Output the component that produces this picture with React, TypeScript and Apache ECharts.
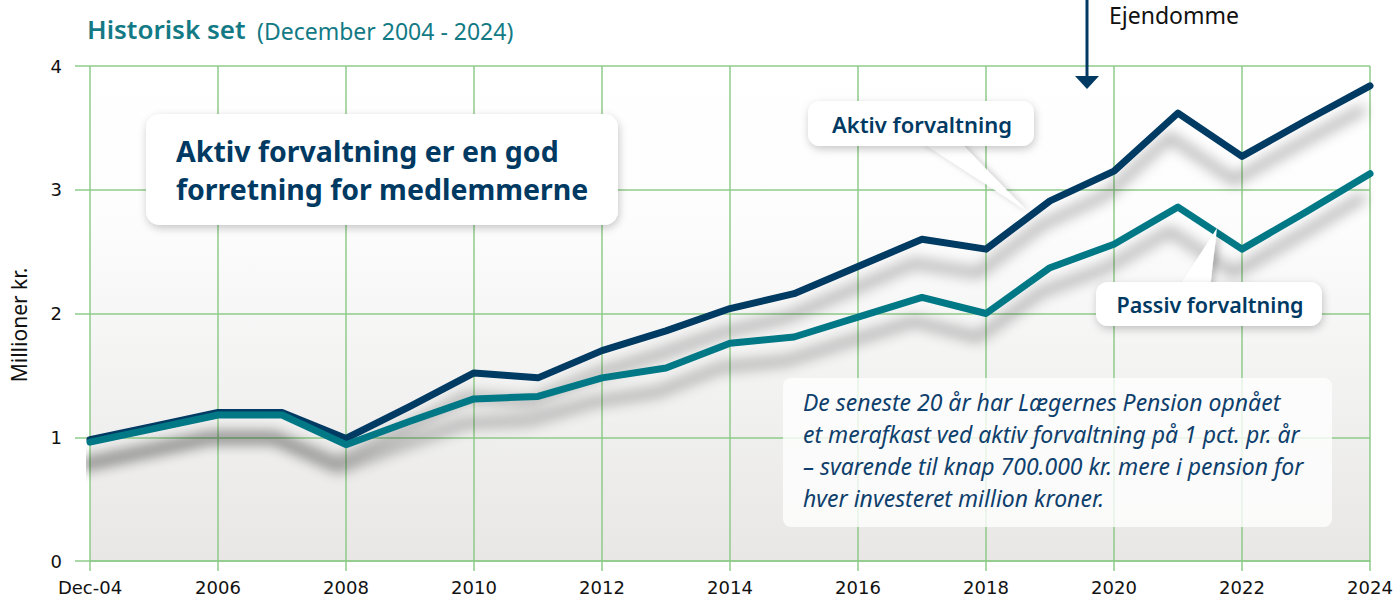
import React, { useEffect, useRef } from "react";
import * as echarts from "echarts";

const categories = [
  "Dec-04", "2005", "2006", "2007", "2008", "2009", "2010", "2011", "2012", "2013",
  "2014", "2015", "2016", "2017", "2018", "2019", "2020", "2021", "2022", "2023", "2024",
];
const aktivValues = [
  0.98, 1.09, 1.2, 1.2, 0.99, 1.25, 1.52, 1.48, 1.7, 1.86,
  2.04, 2.16, 2.38, 2.6, 2.52, 2.91, 3.15, 3.62, 3.27, 3.56, 3.84,
];
const passivValues = [
  0.96, 1.07, 1.18, 1.18, 0.94, 1.13, 1.31, 1.33, 1.48, 1.56,
  1.76, 1.81, 1.97, 2.13, 2.0, 2.37, 2.56, 2.86, 2.52, 2.82, 3.13,
];
const yMin = 0;
const yMax = 4;
const yStep = 1;

const titleMain = "Historisk set";
const titleSub = "(December 2004 - 2024)";
const yName = "Millioner kr.";
const headline = ["Aktiv forvaltning er en god", "forretning for medlemmerne"];
const aktivLabel = "Aktiv forvaltning";
const passivLabel = "Passiv forvaltning";
const infoLines = [
  "De seneste 20 år har Lægernes Pension opnået",
  "et merafkast ved aktiv forvaltning på 1 pct. pr. år",
  "– svarende til knap 700.000 kr. mere i pension for",
  "hver investeret million kroner.",
];
const ejendommeLabel = "Ejendomme";

const NAVY = "#003a63";
const TEAL = "#007885";
const GRID_GREEN = "#8fcb8a";
const FONT = "'Noto Sans', sans-serif";
const AXIS_FONT = "'DejaVu Sans', 'Noto Sans', sans-serif";

export default function App() {
  const ref = useRef<HTMLDivElement>(null);

  useEffect(() => {
    if (!ref.current) return;
    const chart = echarts.init(ref.current, null, { renderer: "svg" });

    const lineShadow = {
      shadowColor: "rgba(0,0,0,0.4)",
      shadowBlur: 14,
      shadowOffsetX: -8,
      shadowOffsetY: 24,
    };
    const boxShadow = {
      shadowColor: "rgba(0,0,0,0.22)",
      shadowBlur: 8,
      shadowOffsetX: 1,
      shadowOffsetY: 3,
    };

    chart.setOption({
      animation: false,
      textStyle: { fontFamily: FONT },
      grid: {
        left: 90,
        right: 27,
        top: 66,
        bottom: 38,
        show: true,
        borderWidth: 0,
        backgroundColor: new echarts.graphic.LinearGradient(0, 0, 0, 1, [
          { offset: 0, color: "#ffffff" },
          { offset: 0.3, color: "#fdfdfd" },
          { offset: 1, color: "#e8e7e6" },
        ]),
      },
      xAxis: {
        type: "category",
        data: categories,
        boundaryGap: false,
        axisLine: { show: true, lineStyle: { color: GRID_GREEN, width: 1.5 } },
        axisTick: { show: true, interval: 1, length: 10, lineStyle: { color: GRID_GREEN, width: 1.5 } },
        splitLine: { show: true, interval: 1, lineStyle: { color: GRID_GREEN, width: 1.5 } },
        axisLabel: { interval: 1, margin: 17, fontSize: 18, color: "#111", fontFamily: AXIS_FONT },
      },
      yAxis: {
        type: "value",
        min: yMin,
        max: yMax,
        interval: yStep,
        axisLine: { show: false },
        axisTick: { show: true, length: 15, lineStyle: { color: GRID_GREEN, width: 1.5 } },
        splitLine: { show: true, lineStyle: { color: GRID_GREEN, width: 1.5 } },
        axisLabel: { margin: 28, fontSize: 18, color: "#111", fontFamily: AXIS_FONT },
      },
      series: [
        {
          name: aktivLabel,
          type: "line",
          data: aktivValues,
          symbol: "none",
          z: 3,
          lineStyle: { color: NAVY, width: 7, cap: "round", join: "round", ...lineShadow },
        },
        {
          name: passivLabel,
          type: "line",
          data: passivValues,
          symbol: "none",
          z: 4,
          lineStyle: { color: TEAL, width: 7, cap: "round", join: "round", ...lineShadow },
        },
      ],
      graphic: [
        {
          type: "text",
          x: 87,
          y: 29,
          style: {
            text: titleMain,
            fontSize: 26,
            fontWeight: 600,
            fill: "#137a85",
            verticalAlign: "middle",
            fontFamily: FONT,
          },
        },
        {
          type: "text",
          x: 257,
          y: 31,
          style: {
            text: titleSub,
            fontSize: 23,
            fill: "#137a85",
            verticalAlign: "middle",
            fontFamily: FONT,
          },
        },
        {
          type: "text",
          x: 19,
          y: 325,
          rotation: Math.PI / 2,
          style: {
            text: yName,
            fontSize: 21,
            fill: "#111",
            align: "center",
            verticalAlign: "middle",
            fontFamily: FONT,
          },
        },
        // Ejendomme arrow
        {
          type: "line",
          z: 10,
          shape: { x1: 1087, y1: 0, x2: 1087, y2: 78 },
          style: { stroke: NAVY, lineWidth: 3 },
        },
        {
          type: "polygon",
          z: 10,
          shape: { points: [[1075, 76], [1099, 76], [1087, 89]] },
          style: { fill: NAVY },
        },
        {
          type: "text",
          z: 10,
          x: 1109,
          y: 15,
          style: { text: ejendommeLabel, fontSize: 23, fill: "#111", verticalAlign: "middle", fontFamily: FONT },
        },
        // Headline box
        {
          type: "rect",
          z: 10,
          shape: { x: 146, y: 114, width: 472, height: 111, r: 14 },
          style: { fill: "#ffffff", ...boxShadow },
        },
        {
          type: "text",
          z: 11,
          x: 176,
          y: 151,
          style: { text: headline[0], fontSize: 28.5, fontWeight: "bold", fill: NAVY, verticalAlign: "middle", fontFamily: FONT },
        },
        {
          type: "text",
          z: 11,
          x: 176,
          y: 189,
          style: { text: headline[1], fontSize: 28.5, fontWeight: "bold", fill: NAVY, verticalAlign: "middle", fontFamily: FONT },
        },
        // Aktiv callout
        {
          type: "polygon",
          z: 10,
          shape: { points: [[918, 140], [958, 140], [1027, 211]] },
          style: { fill: "#ffffff", shadowColor: "rgba(0,0,0,0.2)", shadowBlur: 6, shadowOffsetX: 4, shadowOffsetY: 2 },
        },
        {
          type: "rect",
          z: 10,
          shape: { x: 808, y: 101, width: 226, height: 45, r: 12 },
          style: { fill: "#ffffff", ...boxShadow },
        },
        {
          type: "text",
          z: 11,
          x: 922,
          y: 124,
          style: { text: aktivLabel, fontSize: 22, fontWeight: 600, fill: NAVY, align: "center", verticalAlign: "middle", fontFamily: FONT },
        },
        // Passiv callout
        {
          type: "polygon",
          z: 10,
          shape: { points: [[1178, 288], [1210, 288], [1217, 228]] },
          style: { fill: "#ffffff", shadowColor: "rgba(0,0,0,0.2)", shadowBlur: 6, shadowOffsetX: 4, shadowOffsetY: 2 },
        },
        {
          type: "rect",
          z: 10,
          shape: { x: 1096, y: 282, width: 226, height: 44, r: 12 },
          style: { fill: "#ffffff", ...boxShadow },
        },
        {
          type: "text",
          z: 11,
          x: 1210,
          y: 304,
          style: { text: passivLabel, fontSize: 21.5, fontWeight: 600, fill: NAVY, align: "center", verticalAlign: "middle", fontFamily: FONT },
        },
        // Info box
        {
          type: "rect",
          z: 10,
          shape: { x: 783, y: 378, width: 549, height: 149, r: 8 },
          style: { fill: "rgba(255,255,255,0.78)" },
        },
        ...infoLines.map((t, i) => ({
          type: "text",
          z: 11,
          x: 803,
          y: 402 + i * 32,
          style: {
            text: t,
            fontSize: 23,
            fontStyle: "italic",
            fill: "#0f3f6c",
            verticalAlign: "middle",
            fontFamily: FONT,
          },
        })),
      ],
    });

    return () => chart.dispose();
  }, []);

  return (
    <div
      ref={ref}
      style={{ position: "fixed", left: 0, top: 0, width: 1397, height: 599, background: "#ffffff" }}
    />
  );
}
